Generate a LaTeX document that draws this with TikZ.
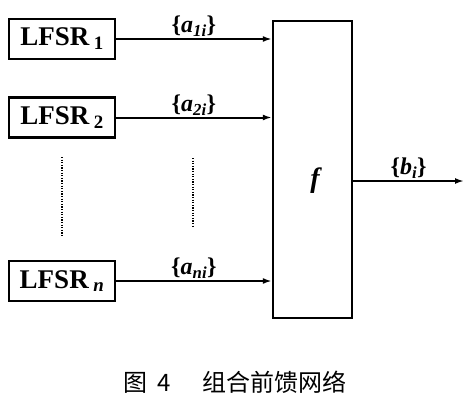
\documentclass[tikz,border=0pt]{standalone}
\usepackage{fontspec}
\setmainfont{Liberation Serif}
\newfontfamily\cjk{Noto Sans CJK SC}
\usetikzlibrary{arrows.meta}
\begin{document}
\begin{tikzpicture}[x=1pt,y=-1pt,
  lfsr/.style={draw,line width=2.2pt,minimum width=106pt,minimum height=40pt,inner sep=0pt,font=\fontsize{27}{30}\selectfont\bfseries},
  fbox/.style={draw,line width=2.4pt,minimum width=79pt,minimum height=297pt,inner sep=0pt},
  conn/.style={line width=2pt,-{Latex[length=9pt,width=6pt]}},
  lab/.style={font=\fontsize{24}{26}\selectfont\bfseries},
  dots/.style={line width=1.6pt,dash pattern=on 1.2pt off 1.4pt}]
\useasboundingbox (0,0) rectangle (466,410);
\node[lfsr] (l1) at (62,39) {LFSR\,\textsubscript{1}};
\node[lfsr] (l2) at (62,117.5) {LFSR\,\textsubscript{2}};
\node[lfsr] (ln) at (62,281) {LFSR\,\textsubscript{\itshape n}};
\node[fbox] (f) at (312.5,169.5) {};
\node[font=\fontsize{28}{30}\selectfont\bfseries\itshape] (fl) at (315,181) {f};
\coordinate (f1) at (f.west |- l1.east);
\coordinate (f2) at (f.west |- l2.east);
\coordinate (fn) at (f.west |- ln.east);
\draw[conn] (l1.east) -- node[lab,above,yshift=-2pt] (a1) {\{\textit{a}\textsubscript{\itshape 1i}\}} (f1);
\draw[conn] (l2.east) -- node[lab,above,yshift=-2pt] (a2) {\{\textit{a}\textsubscript{\itshape 2i}\}} (f2);
\draw[conn] (ln.east) -- node[lab,above,yshift=-2pt] (an) {\{\textit{a}\textsubscript{\itshape ni}\}} (fn);
\coordinate (fo) at (f.east |- fl);
\coordinate (out) at (464,181);
\draw[conn] (fo) -- node[lab,above,yshift=-2pt] (b) {\{\textit{b}\textsubscript{\itshape i}\}} (out);
\coordinate (d1a) at (62,157); \coordinate (d1b) at (62,237);
\coordinate (d2a) at (193,158); \coordinate (d2b) at (193,228);
\draw[dots] (d1a) -- (d1b);
\draw[dots] (d2a) -- (d2b);
\node[font=\cjk\fontsize{24}{26}\selectfont] (cap) at (235,382) {图\hspace{0.4em}4\hspace{1.3em}组合前馈网络};
\end{tikzpicture}
\end{document}
